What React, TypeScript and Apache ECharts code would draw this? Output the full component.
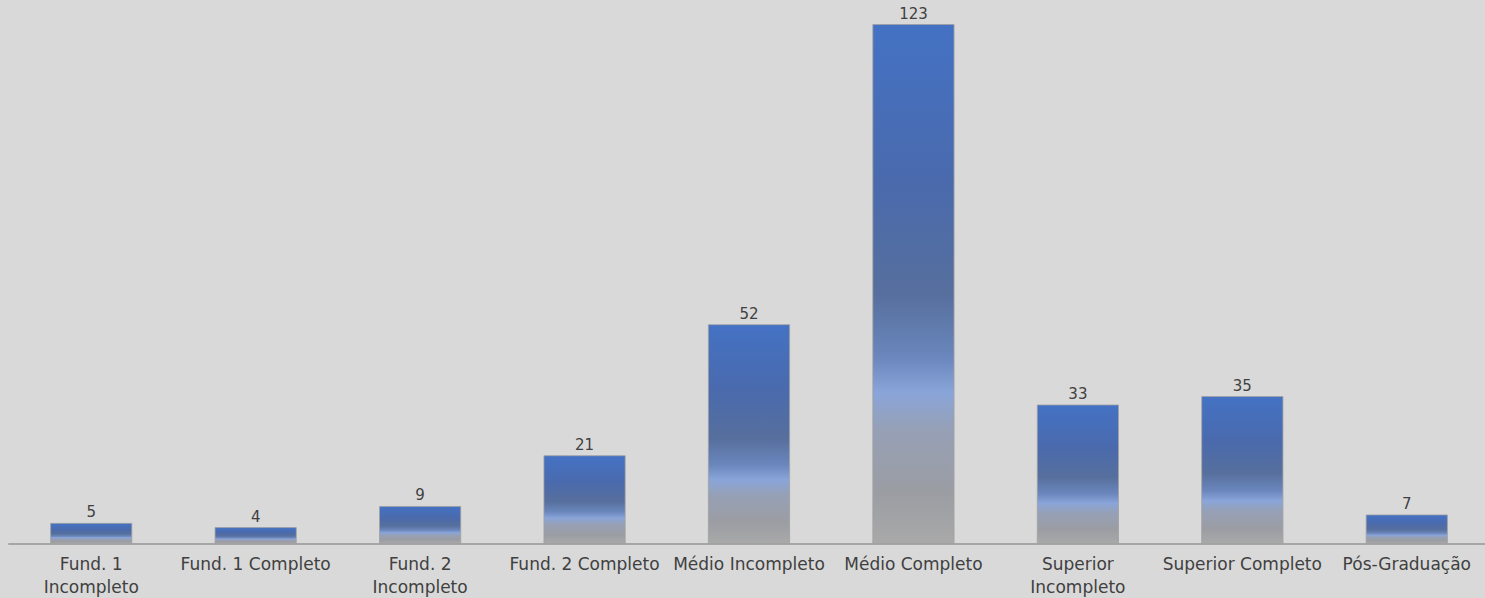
import React, { useEffect, useRef } from "react";
import * as echarts from "echarts";

const categories = [
  "Fund. 1\nIncompleto",
  "Fund. 1 Completo",
  "Fund. 2\nIncompleto",
  "Fund. 2 Completo",
  "Médio Incompleto",
  "Médio Completo",
  "Superior\nIncompleto",
  "Superior Completo",
  "Pós-Graduação",
];
const values = [5, 4, 9, 21, 52, 123, 33, 35, 7];

const FONT = "'DejaVu Sans', Verdana, sans-serif";

export default function App() {
  const ref = useRef<HTMLDivElement>(null);
  useEffect(() => {
    if (!ref.current) return;
    const chart = echarts.init(ref.current, null, { renderer: "svg" });
    const grad = new echarts.graphic.LinearGradient(0, 0, 0, 1, [
      { offset: 0, color: "#4472c4" },
      { offset: 0.3, color: "#4a6aad" },
      { offset: 0.52, color: "#566f9d" },
      { offset: 0.64, color: "#6a86bc" },
      { offset: 0.71, color: "#8aa5d9" },
      { offset: 0.78, color: "#96a0b6" },
      { offset: 0.9, color: "#9b9da3" },
      { offset: 1, color: "#a9a9a9" },
    ]);
    chart.setOption({
      animation: false,
      backgroundColor: "#d9d9d9",
      grid: { left: 9, right: 1, top: 24, bottom: 52 },
      xAxis: {
        type: "category",
        data: categories,
        axisLine: { show: true, lineStyle: { color: "#a6a6a6", width: 2 } },
        axisTick: { show: false },
        axisLabel: {
          interval: 0,
          color: "#404040",
          fontFamily: FONT,
          fontSize: 17,
          lineHeight: 23,
          margin: 8,
        },
      },
      yAxis: {
        type: "value",
        min: 0,
        max: 123,
        show: false,
        splitLine: { show: false },
      },
      series: [
        {
          type: "bar",
          data: values,
          barWidth: "50%",
          itemStyle: {
            color: grad,
            borderColor: "rgba(160,160,160,0.8)",
            borderWidth: 1,
          },
          label: {
            show: true,
            position: "top",
            distance: 3,
            color: "#404040",
            fontFamily: FONT,
            fontSize: 15,
          },
        },
      ],
    });
    return () => chart.dispose();
  }, []);
  return (
    <div
      ref={ref}
      style={{ position: "fixed", left: 0, top: 0, width: 1490, height: 598 }}
    />
  );
}
